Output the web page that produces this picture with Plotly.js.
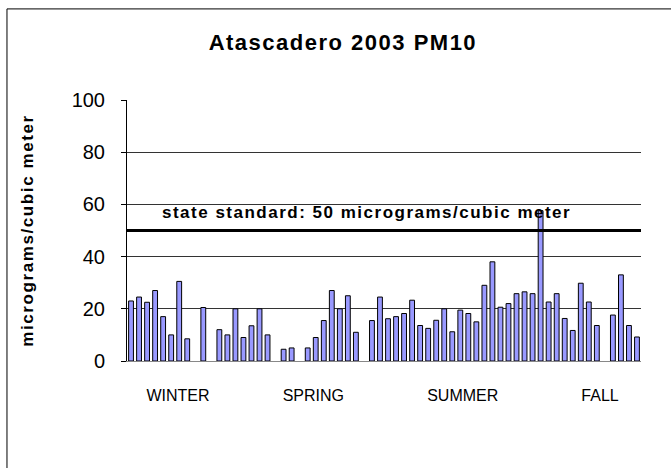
<!DOCTYPE html>
<html><head><meta charset="utf-8">
<script src="https://cdn.plot.ly/plotly-3.0.1.min.js"></script>
<style>
html,body{margin:0;padding:0;background:#fff;}
#chart{width:671px;height:468px;}
.gtitle{letter-spacing:1.5px;}
.ytitle{letter-spacing:1.6px;}
.annotation-text{letter-spacing:1.5px;}
</style></head><body><div id="chart"></div>
<script>
// PM10 samples, one slot per sampling day (null = no sample)
const pm10 = [
  23, 24.5, 22.5, 27, 17, 10, 30.5, 8.5, null, 20.5,
  null, 12, 10, 20, 9, 13.5, 20, 10, null, 4.5,
  5, null, 5, 9, 15.5, 27, 20, 25, 11, null,
  15.5, 24.5, 16.2, 17, 18.2, 23.3, 13.6, 12.5, 15.6, 20,
  11.2, 19.5, 18.2, 15, 29, 38, 20.6, 22, 25.8, 26.5,
  25.8, 57.6, 22.6, 25.8, 16.3, 11.7, 29.8, 22.6, 13.6, null,
  17.6, 33, 13.6, 9.2
];
const seasonLabels = ['WINTER', 'SPRING', 'SUMMER', 'FALL'];
const seasonTickPos = [5.85, 22.7, 41.3, 58.4];
const stateStandard = 50;
const standardLabel = 'state standard: 50 micrograms/cubic meter';
const yTicks = [0, 20, 40, 60, 80, 100];

const slots = pm10.map((_, i) => i);

const traces = [{
  type: 'bar',
  x: slots,
  y: pm10,
  width: 0.6,
  marker: {color: '#9999FF', line: {color: '#000000', width: 1}},
  hoverinfo: 'y'
}];

const layout = {
  width: 671, height: 468,
  margin: {l: 127, r: 30, t: 100, b: 107},
  paper_bgcolor: '#ffffff', plot_bgcolor: '#ffffff',
  showlegend: false,
  font: {family: 'Liberation Sans, Arial, sans-serif', color: '#000'},
  title: {
    text: '<b>Atascadero 2003 PM10</b>',
    font: {size: 22, family: 'Liberation Sans, Arial, sans-serif', color: '#000'},
    x: 0.511, xref: 'container', xanchor: 'center',
    y: 0.91, yref: 'container', yanchor: 'middle'
  },
  xaxis: {
    range: [-0.5, pm10.length - 0.5],
    tickmode: 'array', tickvals: seasonTickPos, ticktext: seasonLabels,
    ticks: '', showgrid: false, zeroline: false,
    showline: true, linecolor: '#888', linewidth: 1,
    tickfont: {size: 16},
    ticklabelstandoff: 20,
    fixedrange: true
  },
  yaxis: {
    range: [0, 100],
    tickmode: 'array', tickvals: yTicks,
    ticks: 'outside', ticklen: 5, tickcolor: '#000', tickwidth: 1,
    showline: true, linecolor: '#000', linewidth: 1,
    showgrid: true, gridcolor: '#333', gridwidth: 1,
    zeroline: false,
    tickfont: {size: 20},
    ticklabelstandoff: 12,
    title: {text: '<b>micrograms/cubic meter</b>', font: {size: 17}, standoff: 33},
    fixedrange: true
  },
  shapes: [
    {type: 'line', xref: 'paper', x0: 0, x1: 1, yref: 'y', y0: stateStandard, y1: stateStandard,
     line: {color: '#000', width: 3}},
    {type: 'rect', xref: 'paper', yref: 'paper', x0: -0.2335, x1: 1.2, y0: -0.6, y1: 1.349,
     line: {color: '#000', width: 1}, layer: 'below'}
  ],
  annotations: [{
    text: '<b>' + standardLabel + '</b>',
    xref: 'paper', x: 0.064, xanchor: 'left',
    yref: 'y', y: stateStandard, yanchor: 'middle', yshift: 18,
    showarrow: false,
    font: {size: 17, color: '#000'}
  }]
};

Plotly.newPlot('chart', traces, layout, {staticPlot: true, displayModeBar: false});
</script></body></html>
